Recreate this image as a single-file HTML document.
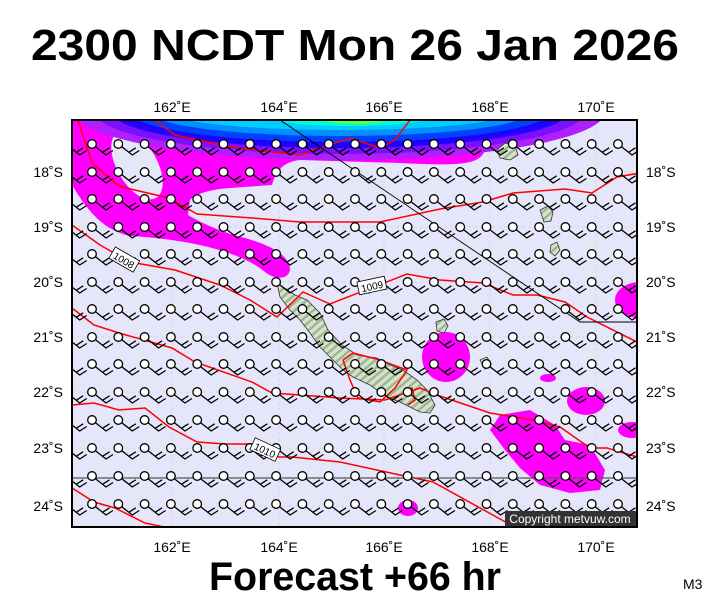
<!DOCTYPE html>
<html><head><meta charset="utf-8"><style>
html,body{margin:0;padding:0;background:#fff}
svg{display:block}
text{font-family:"Liberation Sans",sans-serif}
</style></head><body>
<svg id="s" width="711" height="600" viewBox="0 0 711 600" xmlns="http://www.w3.org/2000/svg">
<defs><clipPath id="c"><rect x="72" y="120" width="565" height="407"/></clipPath>
<pattern id="hatch" width="6" height="6" patternUnits="userSpaceOnUse" patternTransform="rotate(-40)"><rect width="6" height="6" fill="#d4e4cc"/><rect width="6" height="2.5" fill="#9fb596"/></pattern></defs>
<text x="355" y="60" text-anchor="middle" font-size="44" font-weight="bold" textLength="648" lengthAdjust="spacingAndGlyphs">2300 NCDT Mon 26 Jan 2026</text>
<rect x="72" y="120" width="565" height="407" fill="#e6e6fa"/>
<g clip-path="url(#c)">
<g stroke="#d0d0dc" stroke-width="0.8" stroke-dasharray="3,3">
<line x1="172" y1="120" x2="172" y2="527"/><line x1="279" y1="120" x2="279" y2="527"/><line x1="384" y1="120" x2="384" y2="527"/><line x1="490" y1="120" x2="490" y2="527"/><line x1="596" y1="120" x2="596" y2="527"/>
<line x1="72" y1="172" x2="637" y2="172"/><line x1="72" y1="227" x2="637" y2="227"/><line x1="72" y1="282" x2="637" y2="282"/><line x1="72" y1="337" x2="637" y2="337"/><line x1="72" y1="392" x2="637" y2="392"/><line x1="72" y1="448" x2="637" y2="448"/><line x1="72" y1="506" x2="637" y2="506"/>
</g>
<path fill="#ff00ff" d="M72,120 L553,120 C520,126 490,130 485,150 C480,165 460,166 400,163 L300,160 C280,162 275,175 272,185 L230,188 C205,190 195,195 190,200 L188,215 C200,222 220,232 245,238 C270,245 290,255 290,270 C288,280 275,280 265,272 C245,255 200,240 130,236 C105,230 90,215 72,185 Z"/>
<ellipse cx="137" cy="165" rx="20" ry="38" transform="rotate(-30 137 165)" fill="#e6e6fa"/>
<ellipse cx="340" cy="112" rx="265" ry="48" fill="#b020ff"/>
<ellipse cx="340" cy="112" rx="245" ry="42" fill="#7a10ff"/>
<ellipse cx="340" cy="112" rx="228" ry="36" fill="#2000ff"/>
<ellipse cx="340" cy="112" rx="210" ry="30" fill="#0040ff"/>
<ellipse cx="340" cy="112" rx="190" ry="24" fill="#0090ff"/>
<ellipse cx="340" cy="112" rx="170" ry="18" fill="#00ccff"/>
<ellipse cx="350" cy="112" rx="95" ry="14" fill="#00ffd0"/>
<ellipse cx="355" cy="112" rx="45" ry="12" fill="#60ff40"/>
<ellipse cx="355" cy="113" rx="18" ry="8" fill="#ccff00"/>
<ellipse cx="446" cy="357" rx="24" ry="25" fill="#ff00ff"/>
<ellipse cx="548" cy="378" rx="8" ry="4" fill="#ff00ff"/>
<ellipse cx="586" cy="401" rx="19" ry="14" fill="#ff00ff"/>
<ellipse cx="632" cy="430" rx="14" ry="8" fill="#ff00ff"/>
<ellipse cx="640" cy="300" rx="25" ry="18" fill="#ff00ff"/>
<ellipse cx="408" cy="508" rx="10" ry="8" fill="#ff00ff"/>
<path fill="#ff00ff" d="M500,415 L530,410 555,425 565,440 590,445 605,470 600,490 570,493 540,485 520,468 505,450 490,430Z"/>
<g fill="url(#hatch)" stroke="#333" stroke-width="0.8">
<path d="M277,283 295,295 307,300 320,313 328,330 342,345 357,355 377,358 390,365 403,370 417,380 427,390 435,405 430,413 420,412 410,407 400,402 387,397 370,385 353,377 343,370 330,357 320,347 310,333 300,320 290,310 280,297Z"/>
<path d="M497,150 505,143 515,146 518,155 510,160 500,158Z"/>
<path d="M540,210 548,206 553,212 551,221 544,222Z"/>
<path d="M551,245 557,242 560,250 555,256 550,252Z"/>
<path d="M436,322 444,319 448,326 444,333 437,331Z"/>
<path d="M480,360 487,357 491,364 485,369Z"/>
</g>
<g fill="none" stroke="#ff0000" stroke-width="1.5">
<polyline points="155,120 175,135 230,147 300,155 350,138 380,148 395,140 410,120"/>
<polyline points="78,120 92,163 115,183 122,187 169,198 197,214 252,218 300,222 380,222 440,209 483,202 513,193 565,189 592,193 617,177 640,173"/>
<polyline points="72,225 100,245 130,262 175,270 220,285 250,300 277,317 303,292 330,304 407,274 440,280 483,283 513,295 537,295 565,302 587,317 637,342"/>
<polyline points="72,308 94,325 119,333 172,348 195,362 252,382 272,393 300,395 340,398 385,400 420,388 437,395 490,413 533,420 560,427 590,448 607,448 637,457"/>
<polyline points="343,360 353,353 380,360 407,370 395,388 380,402 358,398 350,380 343,360"/>
<polyline points="403,393 412,388 415,400 408,405Z"/>
<polyline points="72,405 94,403 119,410 145,408 169,427 197,442 225,444 252,444 279,457 292,457 340,462 400,475 433,482 520,530"/>
<polyline points="72,488 94,502 115,508 145,523 169,528"/>
</g>
<g stroke="#000" stroke-width="0.9" fill="none">
<polyline points="280,120 580,322 637,322"/>
</g>
<line x1="72" y1="478" x2="637" y2="478" stroke="#555" stroke-width="1.2"/>
<g id="barbs" stroke="#000" stroke-width="1.3" fill="#fff"></g>
<g font-size="10" text-anchor="middle">
<g transform="translate(124,260) rotate(30)"><rect x="-14" y="-7" width="28" height="13" fill="#fff" stroke="#000" stroke-width="0.8"/><text y="4">1008</text></g>
<g transform="translate(372,286) rotate(-12)"><rect x="-14" y="-7" width="28" height="13" fill="#fff" stroke="#000" stroke-width="0.8"/><text y="4">1009</text></g>
<g transform="translate(265,450) rotate(25)"><rect x="-14" y="-7" width="28" height="13" fill="#fff" stroke="#000" stroke-width="0.8"/><text y="4">1010</text></g>
</g>
<rect x="505" y="511" width="131" height="15" fill="#333"/>
<text x="570" y="523" font-size="12" fill="#fff" text-anchor="middle">Copyright metvuw.com</text>
</g>
<rect x="72" y="120" width="565" height="407" fill="none" stroke="#000" stroke-width="2"/>
<g font-size="14" text-anchor="middle">
<text x="172" y="112">162˚E</text><text x="279" y="112">164˚E</text><text x="384" y="112">166˚E</text><text x="490" y="112">168˚E</text><text x="596" y="112">170˚E</text>
<text x="172" y="552">162˚E</text><text x="279" y="552">164˚E</text><text x="384" y="552">166˚E</text><text x="490" y="552">168˚E</text><text x="596" y="552">170˚E</text>
</g>
<g font-size="14" text-anchor="end">
<text x="63" y="177">18˚S</text><text x="63" y="232">19˚S</text><text x="63" y="287">20˚S</text><text x="63" y="342">21˚S</text><text x="63" y="397">22˚S</text><text x="63" y="453">23˚S</text><text x="63" y="511">24˚S</text>
</g>
<g font-size="14">
<text x="646" y="177">18˚S</text><text x="646" y="232">19˚S</text><text x="646" y="287">20˚S</text><text x="646" y="342">21˚S</text><text x="646" y="397">22˚S</text><text x="646" y="453">23˚S</text><text x="646" y="511">24˚S</text>
</g>
<text x="355" y="590" text-anchor="middle" font-size="40" font-weight="bold" textLength="292" lengthAdjust="spacingAndGlyphs">Forecast +66 hr</text>
<text x="683" y="589" font-size="14">M3</text>
</svg>
<script>
var g=document.getElementById('barbs'),h='';
var rows=[144,172,199,227,254,282,309,337,364,392,420,448,476,504];
rows.forEach(function(y){for(var i=-1;i<=21;i++){var x=92+26.3*i;
h+='<path fill="none" d="M'+x+','+y+' L'+(x+14)+','+(y+11)+' L'+(x+21)+','+(y+6.5)+' M'+(x+10.5)+','+(y+8.3)+' L'+(x+17.5)+','+(y+3.8)+'"/>';
h+='<circle cx="'+x+'" cy="'+y+'" r="4.3"/>';}});
g.innerHTML=h;
</script>
</body></html>
